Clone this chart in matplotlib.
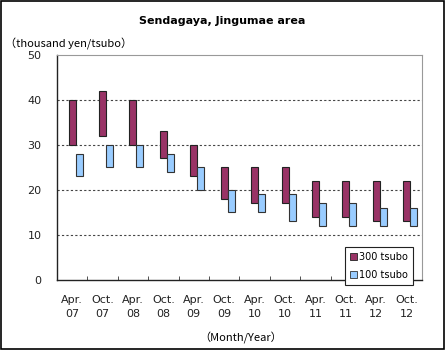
import numpy as np
import matplotlib.pyplot as plt
from matplotlib.patches import Patch, Rectangle

plt.rcParams['font.family'] = ['DejaVu Sans', 'Noto Sans CJK JP']

# data (thousand yen / tsubo), low-high ranges
months = ["Apr.\n07", "Oct.\n07", "Apr.\n08", "Oct.\n08", "Apr.\n09", "Oct.\n09",
          "Apr.\n10", "Oct.\n10", "Apr.\n11", "Oct.\n11", "Apr.\n12", "Oct.\n12"]
t300_low = [30, 32, 30, 27, 23, 18, 17, 17, 14, 14, 13, 13]
t300_high = [40, 42, 40, 33, 30, 25, 25, 25, 22, 22, 22, 22]
t100_low = [23, 25, 25, 24, 20, 15, 15, 13, 12, 12, 12, 12]
t100_high = [28, 30, 30, 28, 25, 20, 19, 19, 17, 17, 16, 16]

c300 = '#993366'
c100 = '#99ccff'

fig = plt.figure(figsize=(4.45, 3.5), dpi=100)
ax = fig.add_axes([0.128, 0.2, 0.82, 0.643])

x = np.arange(len(months))
w = 0.23
ax.bar(x, np.subtract(t300_high, t300_low), bottom=t300_low, width=w,
       color=c300, edgecolor='#222222', linewidth=0.8, zorder=3)
ax.bar(x + w, np.subtract(t100_high, t100_low), bottom=t100_low, width=w,
       color=c100, edgecolor='#333333', linewidth=0.8, zorder=3)

ax.set_xlim(-0.5, len(months) - 0.5)
ax.set_ylim(0, 50)
ax.set_yticks(range(0, 51, 10))
for v in range(10, 50, 10):
    ax.axhline(v, color='#444444', linestyle=(0, (2, 2)), linewidth=0.8, zorder=1)

ax.set_xticks(x)
ax.set_xticklabels(months, fontsize=8, color='#222222', linespacing=1.45)
ax.set_xticks(np.arange(len(months) + 1) - 0.5, minor=True)
ax.tick_params(axis='x', which='major', length=0, pad=11)
ax.tick_params(axis='x', which='minor', direction='in', length=3, color='#333333')
ax.tick_params(axis='y', length=0, labelsize=8, pad=11, labelcolor='#222222')

for s in ['top', 'right']:
    ax.spines[s].set_color('#999999')
    ax.spines[s].set_linewidth(0.8)
for s in ['left', 'bottom']:
    ax.spines[s].set_color('#222222')
    ax.spines[s].set_linewidth(1.0)

fig.text(0.5, 0.94, "Sendagaya, Jingumae area", ha='center', va='center',
         fontsize=8, fontweight='bold')
fig.text(0.012, 0.873, "（thousand yen/tsubo）", ha='left', va='center', fontsize=8,
         family=['Noto Sans CJK JP', 'DejaVu Sans'])
fig.text(0.54, 0.035, "（Month/Year）", ha='center', va='center', fontsize=8,
         family=['Noto Sans CJK JP', 'DejaVu Sans'])

handles = [Patch(facecolor=c300, edgecolor='#222222', linewidth=0.6, label='300 tsubo'),
           Patch(facecolor=c100, edgecolor='#333333', linewidth=0.6, label='100 tsubo')]
leg = ax.legend(handles=handles, loc='lower left', bbox_to_anchor=(0.79, -0.02),
                fontsize=7, handlelength=0.7, handleheight=0.7, handletextpad=0.2,
                fancybox=False, framealpha=1, edgecolor='#222222', borderpad=0.5,
                labelspacing=0.8, borderaxespad=0)
leg.set_zorder(5)
leg.get_frame().set_linewidth(0.8)

fig.patches.append(Rectangle((0.002, 0.003), 0.995, 0.994, transform=fig.transFigure,
                             fill=False, edgecolor='black', linewidth=1.2))

fig.savefig('out.png', dpi=100)
